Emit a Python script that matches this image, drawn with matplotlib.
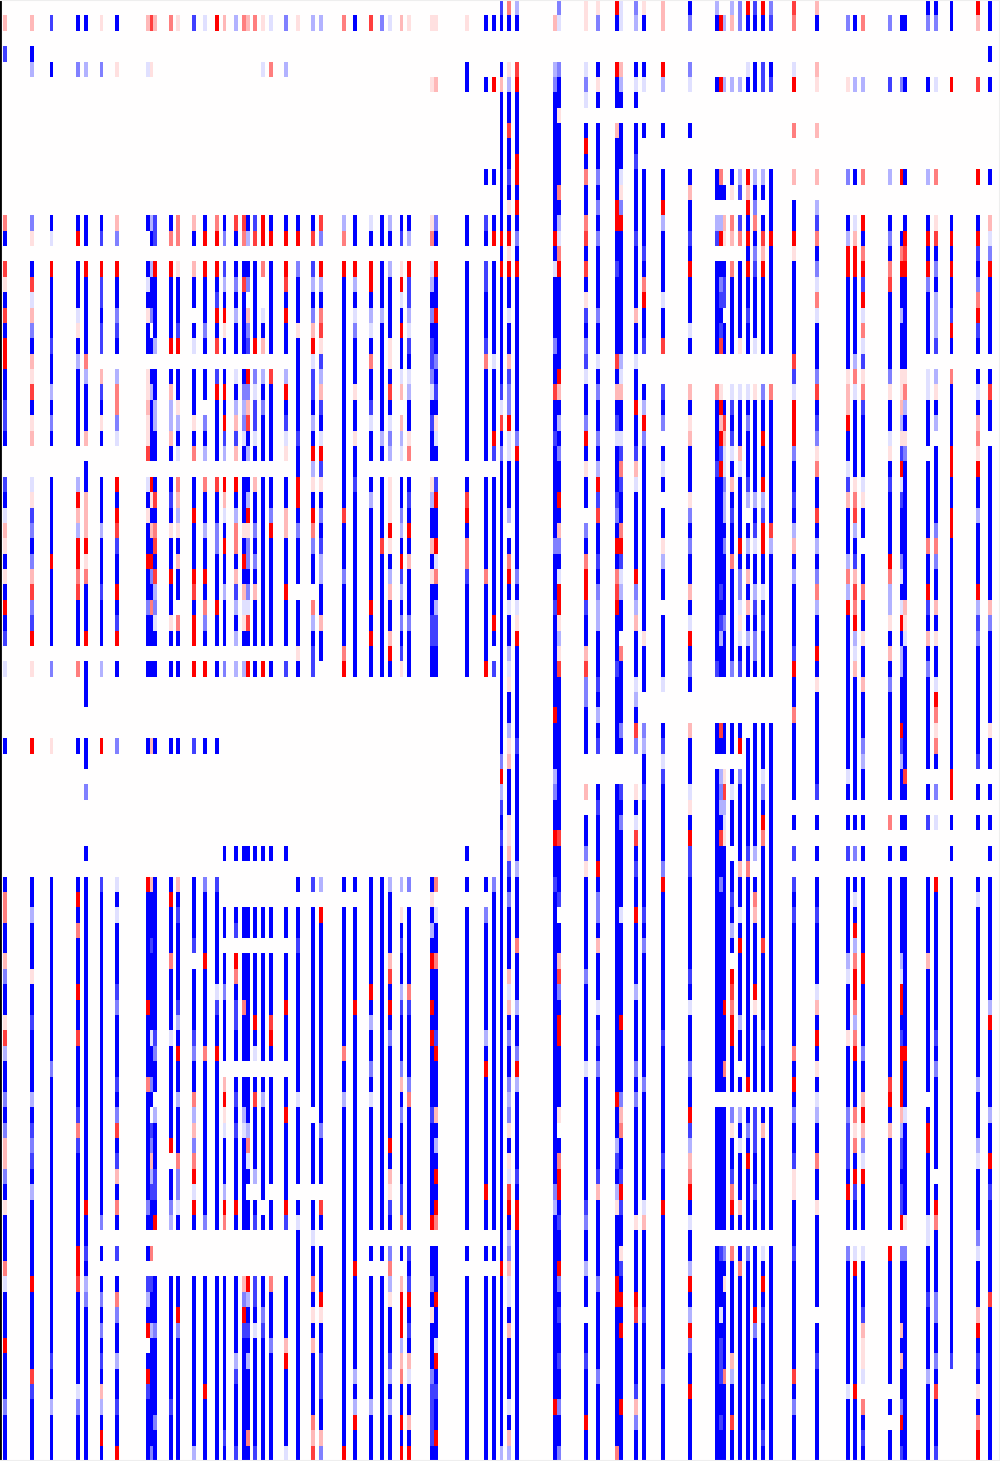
import numpy as np
import matplotlib
matplotlib.use('Agg')
import matplotlib.pyplot as plt

n_rows = 95
n_cols = 260

left_cols = [1, 8, 13, 20, 22, 26, 30, 38, 39, 40, 44, 46, 50, 53, 56, 58, 61, 63, 64, 66,
             68, 70, 74, 77, 81, 83, 89, 92, 96, 99, 101, 104, 106, 112, 113, 121, 126, 128]
right_cols = [130, 132, 134, 144, 145, 152, 155, 160, 161, 165, 167, 172, 179, 186, 187, 188, 190,
              192, 194, 196, 198, 200, 206, 212, 220, 222, 224, 231, 234, 235, 241, 243, 247, 254, 257]

# one letter per cell: a-d and B go to blue, e-h and R go to red, dot is zero
levels = {'.': 0, 'a': -0.12, 'b': -0.3, 'c': -0.5, 'd': -0.75, 'B': -1,
          'e': 0.12, 'f': 0.28, 'g': 0.5, 'h': 0.75, 'R': 1}

left_rows = [
    "",
    "ffdBB eBfhf gedaR fbgfg eaceb bgBhc afeee eBB",
    "",
    "dB...",
    ".bBcb ceae. ..... ..... agb.. ..... ..... B..",
    "..... ..... ..... ..... ..... ..... ...ef BBR",
    "", "", "", "", "",
    "..... ..... ..... ..... ..... ..... ..... .BB",
    "", "",
    "gcBBB BfBbd BgfBg BhhBd RBBBB hbBaB bBBec BdB",
    "BeaRB dc.Bd ggBRR cBgbh RRRRh cgBBB BdbgB BBR",
    "",
    "hBRBR RRBbR RefRR dBBBB gBRcd RRRRB beRaR BdB",
    "ehBBB dBaBB BBBBB bchcB .BhBb bBbRB BRdbB BdB",
    "BaBBB dBBBB BBBBd BBB.B .BBBB BBBBB BadBB BBB",
    "hfBaB BcecB BB.BR RbBfB aBRBc gBabb BBbcR BBB",
    "BcBeB ddB.B BdBcB eBBcB BBBef hBcaB BRaBB BBB",
    "RBdBB dBBBb RRaBh BBBdR fBBBR eBBBB eBddB BdB",
    "RfBbg ..... ..... ..... ...Ba dBBgB eBBdc Bga",
    "BeBBb fbeBB BBBBd BaBRc bhbBd bBBBB BaacB BBB",
    "BhbBB dgebB fBBBR RBcca BBRBd fBeBB hfbad BBB",
    "dBBBB BgfBb beB.B Bbbfd cBBBB dBBdB B.BBB BBB",
    "decBB eceBb bbecB Rfchd BBdBb BBBaB afBde BBB",
    "BfBBf BaeBB fBBBB ddaBa BBadB aBeBb cbeBa BBR",
    "..... ..hBB BagbB bfBbB BBeBR RBBBB bagBB BBd",
    "....B ..... ..... ..... ...Bb dBB..",
    "daBbB BRaRB BgBgh RRBBf BBBRe eBdBB eBBed BBB",
    "BeBRf BBBeh dfBBB fBBbB BBBRB BBBbB eBdbR hBB",
    "adBff BReBB BbRBB abBRB BcfBR chBBB ecBBB RBB",
    "fcBbf bhBfg eeBbc Bgeec BRfcg BBBBB RbRBB BBB",
    "eBBRR BdBBh BBBBc RgBcB BBBBc dBBBh eBBfR gBB",
    "BcRRe BBRRB BfBBB BBRcc BBBBB bBBBB BRfBa gBB",
    "efBgg BBBch RBRRB BfBBB BBBBB bcBBB bdBeg dgB",
    "BhBhB dRBBb BBhBB bdfcf BBR.. BBBBB fbBBB BBB",
    "RcBBB BBcgc B.BgR BbaaB BBBBg BBBRB BBBBb BBB",
    "BdBBB BdBBa egRcB BBehB BBBBb fBBBB Bccdd BBR",
    "dRBBR BRBBB BBRBB BbBBB BBBBB BBBRB fBBdd BBB",
    "..... ..... ..... ..... ...ed BgBBB RdBBB BB.",
    "aecgB bBBBB BBRRB cbbRB RBdBd .RBBB BeBBB BRd",
    "....B",
    "....B",
    "", "",
    "BReBB RcBfB BBdBB",
    "....B",
    "",
    "....c",
    "", "", "",
    "....B ..... ..... BBBBB BBB.. ..... ..... B..",
    "",
    "BBBBB daRfB BfBcd ..... ...Bd bBBBB bbcBg BBc",
    "gBBRB BBBBB RBBBB ..... ..... ...BB B..e. ..B",
    "gbBBB BaBBB BdBBB BBBBB BBBBB RBBBB BeBBa BcB",
    "BBBgB BBBBB BBBBB BdBBB BBBBB BBBBB BBBbB BBB",
    "BBBBB BBBdB BBdBB ..... ...dB BBBBB BdBBB BBB",
    "fBBBB BBBBB gB.RB BRBBB BBBBB BBBBB fBBRg BBB",
    "ceBBB BBBBB BBBBB BgBBB BBBBB BBBBB hBBBB BBB",
    "BBBRB BdBBB BBBBa cBBBB BBBBB BBBRB BbgBB BBB",
    "BBBBB BcRBB BdBBd BdgBB BBRBB BBRBB RddRB BBB",
    "edBBB BBBBB BbBBB BdBBR BhBBB BBBbB BBBBB BBB",
    "hBBhB BBBad aBdBB BBBBB BRBBB BBBBB cBBRd BbB",
    "bBBBB BBBBc BRcgR BBBBa BBBBB BgBBB BBBBR BBB",
    "BBcBB BBBBB BBBBB ..... ...BB BBBcB BcBBB BRB",
    "BBBBB BdgcB BBBBB fBBBB BBBBB BBBBB BfcBB BBB",
    "cbBBB BBBB. BbgBB RdBBh bBBaB BbBaB BBgBB BBB",
    "BBBdB BcB.b BBbBB eBbBB BBRB. BBBBB BcBdf BBB",
    "cdBgB BhBdB BBfBB adabB BBBBB cBBBB BBBBB BBB",
    "fcBdB BBBcB RBcBB BBBgB BBBBB BBBBB RBBBb BBB",
    "fdBBB BdBfB .ggBB BBBaB BBBBB BBBBB BBBBB BBB",
    "cBBBB BfBbd BcRBB BBBBb BBBBB BBBBB fBBBR BBB",
    "BbBBB BBBdd BcaBB bBB.. B.B.. .BBBB edBBB BRB",
    "eBBBR BgcBB caRBB RRBBB .BRBB hBBBB ddBBR BBB",
    "BBBBB cBBBR bBBcB gBBBd BBdaB BBBBB BgBRg BBB",
    "BBBBB ..... ..... ..... ...Ba .BB..",
    "BBBRd BdBg. ..... ..... ...BB BBBBB cBdBB BBB",
    "gBBRB ..... ..... ..... ...BB BBR.. g.BBB ...",
    "aRBhb BBddB BBBBB BBfRd BgBBg BBBBB bfdcB BBB",
    "BBBBc cgbBB BBBBB BBcbd BBBBB RBBBB eRRBR BBB",
    "BBBBB BcBBB BRBBB BBRBB cBBBe eBBBB BRBeB BBB",
    "BBBBB cBRbc BcBBB BBdda dBBBB BBBBB BRdBB BBB",
    "RBBBB BB.BB BBBBB BBBBB BcfBf BBBBB BbBBa BBB",
    "BBdBB dbBBB BBBBB BbBbB BBRBB dBBBB dffBR BBB",
    "BhBBB BBRBB BBBBB BdBBB BBBBB dBbBB bgacB BBB",
    "BdBaB fBdBB BBBRB BBBBB BBBBB dBBBB BBBdd BBB",
    "cBbcB bdBBB dBBBB BBBBB BBBBB BBbbB bBBdB BBB",
    "BBBBB BBBBc BBBBB BBBBB BBBBg BBRBB BRfdB BBB",
    "BBBBB RBBBB BBBBB dBBgB BBBBf fBBBB BBBdR BBB",
    "BBBBB BRBcB BBbBB BdBBd BBaBh cRBBB BRRBB BBB",
]

right_rows = [
    "dgb.c eeRac efBb. .bcRd Rchf. ..... BBBRB",
    "BBBfa ecBab BfcBR bfcBB BdgBc BgcBB ccBfB",
    "",
    "..... ..... ..... ..... ..... ..... ....B",
    "Behbc aBRfB BRc.. ...aB dBaf.",
    "fbRcB ceBba abaBR bbbBB ddRee bbdcB BaRhB",
    "BBBBB aBBBB",
    "BBBBe",
    "BhBBB BBfBB BBB.. ..... ..gf.",
    "BBBBB RBBBB",
    "BBRBB BBBBd",
    "BdRBB gcBaB BBBBg .BbRb bBffc BgbRB bg.RB",
    "BBBBg BBBeB BBfBB BedfB BB...",
    "BeRBB BcRcB BRB.. ...Rc .BBb.",
    "BBBBb gBRRB BbBbb fgdBg BBBdB aRB.B BeBBf",
    "RRcRa hcBBd BBddR efgRB hRRgb fBcBR RhRRa",
    "BeBBg BBBBB dBB.. ...Bc fBeBR RgBgh BBBdc",
    "RRRaR hBdBB BBRBB BgBRd RBBcR RRgRR RcRBR",
    "BBBBB BBBBB gBBBc dBBBB BBBaB BdhBB cBBcB",
    "BBBBB eBBBB RaBBd dBBBB BBBgB BRBBB BbBgB",
    "BaBBB dcBBf BBBBB .BBdB BBBaB BaBbB BbdRB",
    "BBBBB BBBBB BBaBd BBBBB BBBBB BgBBB BbRdB",
    "BBBcB cBBBB dhBBh BBeBa BBBBB BaBBB BdBBB",
    "BfBBB dahba ..... ..... ..hBB bdBBB",
    "BdBBR aBBaB ..... ..... ..dce gecee abgBB",
    "dcBhf BcffB Bdfge .aaae cgahf ageeg aeBah",
    "acBBB BBBBR bBBBR BdBBB BBRBf BdBfb BBBBB",
    "hRBBb cBdBB RceBf hBBcB BBRdR BBBbB BbBfB",
    "BacdB RcaaB c.fBR fdBBB RBRcB BBaee B.Bg.",
    "caRBc BBBdd BBBBd aafBB BBceB BBedc .BReB",
    "BBBBB ebBgf BaBdR aBaBB BBBga BBBRB BBRRB",
    "BBBBB BRBda BBBBB cfBdB RBBBd eadaB BBBBB",
    "BBBBR BddBB B.eBB bBBbb bBdBf geBdB BBBBB",
    "BbBBB .hcBB BBcBB bdB.B dBBhB hBBBB BBRbB",
    "B.BBf cBBgB BBBBB BBBBd RhbBB bBBBB BcRBB",
    "BBBcc BBRRB BecBB cBRba RbfbB B.BBB ggBBB",
    "BgBBB gdBdB BbBBB BgBBB BBBBb dBRcB BcBBB",
    "BRcBa RBgaR BBBBB BBcfB BBbcg fBgaB BBBBB",
    "BBBBR Rchbc BBfBd BBcBb aBBgb hgbBB RBBRB",
    "BaadR dbRBb B.BBB BBafd BBBbR gBbaf dfBbf",
    "BBeBe BbBBf BBaBd cBeBB dBBBB RBeRe BBBdc",
    "BBRBb BBB.B eBRBb BBabc BBBBB beBBa feBcB",
    "BbBBe fBBgB BBBBB BBBBc BBdRB aBfbB BBBBB",
    "BaBBh hBdBB BBcdB BcdBB BBRBB fBBbB cBBBB",
    "BeBBB cdBBa BaB.. ..... ..BeB BfcBB BaBBB",
    "BBBBB cBBBb ..... ..... ..BBB BBBBB BRBBB",
    "BBBRB BbBBB ..... ..... ..gBB BBBBB BgBBB",
    "BbBBB BBBch cBfBh BBB.B BBBBB BBBRB BeBBe",
    "BedBB BdBBc bdBBB BBRBB BBBBB BcBdB BgBBB",
    "cfBBB ..... BaB.. ...BB BBBBB BbBbB BBBdB",
    "RBBbB ..... BdBBb eBcBB aBBBa BBBBh ..R..",
    "bBBcB fBBde dBaBc haBBB cBBdB BBBBB BcRBB",
    "dBBBB .dBBB BBeBb bBBBB BB...",
    "BeBBB BBBca BBBBB aBBBB RBBBB BBgBB daBBB",
    "deBRh BBBBh BBRBh eBBBB gB...",
    "BfBBB cBBBB BBdBB B.Bdb BBdBd cBBBB ..B.B",
    "BdbBB eRBBd BcdBB BBfg. BB...",
    "BBBdB BBBBB BRBBc BBBBB BBdBB BBBBB BRBBB",
    "BcBBd BcBBB BBBBB BdBBg BBBBB aBBBB BBBaB",
    "BBBB. BcBaR dBBBB BBaBf BBddB BBBBB BBBBB",
    "BBBBB BBBBB BBBBB BbBBB BBBBB RBBBB BBBBB",
    "BBgBB BfBBB cBBBB BBRBB hBBBB bBBBB BBBBB",
    "BBBBf BBBBB BBBBB B.BBB BBBBb gRBbB fBBBB",
    "BfBBh cBBBB BBdBB BRBBB BBBBa RRBaB BBBBB",
    "BaBBc BBBBb BBBBB BhBBR BBBaB RBBRB BBBBB",
    "BfbBB BaBBB BBaBB RgBBe BBBfB gBBRB BBBBb",
    "BBBBR BBBRB BBBBB BRbBB BBBBB bBBBB BBBBR",
    "BcBBR BdBBB BdBBB BRBBB dBBRe gBBdB BdBBB",
    "BBcBB BBBBB BBBBB BBBBB BBgBB RcBRR BBBBB",
    "BBRBB acBBc BBcBB gB.BB BBBeB BBBRB BcBBB",
    "BcbBB BBBBB cBBBB BBBRB BBRBB BBhRB BBBbB",
    "BbBBB BBRcc BBB.. ..... ..BaB BfRRB .BBBB",
    "BcBBe BBBfB BBRBB BcbBd BBcbc gRBfa BBBBb",
    "BeBB. BBBgB BBdBB BeBcd fBBBd effbB RBBBB",
    "BBBBB BBbBB BBbBB BBaBd BBBBd gcBdB RBBbB",
    "BeBBg BBdBB BdfBB BBBRB BBdgd BaBdB BBBaR",
    "BadBR BdBdB BBgBB BdBBB BBeBB RRBBB B.BBB",
    "BhBcR BfbRB BBRBB BgBBd BBeBR dBBdB BBBBd",
    "BRRbB dBedB aRBBB BRfBB BBBeB BBBdB BRBBB",
    "BBRBd cBBBe fBaBB BBBBB BBBBB BBBRe agBBB",
    "BbBBB BBBBB BBB.. ..... ..BB. ..... aBBcB",
    "BcBBB BBBeB BBBBd cgBcB aBdBc aaRcc BBBaB",
    "RfBBR bBBdB BBbBB BBgBB BBBBB RBBBB BBBBB",
    "BaBBc BcRBB BBRBB eBBBB RBBBB BBBBB BBBBB",
    "BaBBB BBRRR BBBBB BBBBB BBBBB BBBBB dcBBh",
    "BBBBd .BBBh dBbBa BBBBR dBB.B BdBBB BcBfB",
    "BfBBB BBBRB BBRBB BBBBc BBBBB BfBfB BBBRB",
    "BBBBB BBBBB BBcBd BBBBB BBBBB BeBBB BBBBB",
    "BBBBd dBBBB BBBBd BfBBB BBBdB BeBfB BcddB",
    "BBBBB BcBBB BcBBd gbBBB BBhBB BaBBB bB.BB",
    "BBBBB BBBBd BBRBB BBBBB dBBBa R..BB Bh.eB",
    "BaBRc BBBRf BBBBB BBBBB BBcBB BgBcB BB.BB",
    "BBBBB RBBBc BBBBd BhBBB BBBBB BB.RB BB.gB",
    "BfBBB BBBBB BBBBB BBBBB dBBBB BdBBB BB.RB",
    "bbBBc BBgBB BBBBB BBBBB BBBBB BBBdB Bd.RB",
]


def decode(rows, cols, grid):
    for i, row in enumerate(rows):
        cells = row.replace(' ', '')
        assert len(cells) <= len(cols), (i, row)
        for c, ch in zip(cols, cells):
            grid[i, c] = levels[ch]


assert len(left_rows) == n_rows and len(right_rows) == n_rows, (len(left_rows), len(right_rows))

grid = np.zeros((n_rows, n_cols))
decode(left_rows, left_cols, grid)
decode(right_rows, right_cols, grid)

fig = plt.figure(figsize=(10, 14.61), dpi=100)
# half a pixel to the left so the cell edges round the same way as the reference
ax = fig.add_axes([-0.0005, 0, 1, 1])
ax.pcolormesh(grid, cmap='bwr', vmin=-1, vmax=1, antialiased=False)
ax.set_ylim(n_rows, 0)
ax.set_xticks([])
ax.set_yticks([])
for side in ['top', 'right', 'bottom']:
    ax.spines[side].set_color('#eeeeee')
    ax.spines[side].set_linewidth(1.5)
ax.spines['left'].set_color('black')
ax.spines['left'].set_linewidth(2)
fig.savefig('out.png', dpi=100)
